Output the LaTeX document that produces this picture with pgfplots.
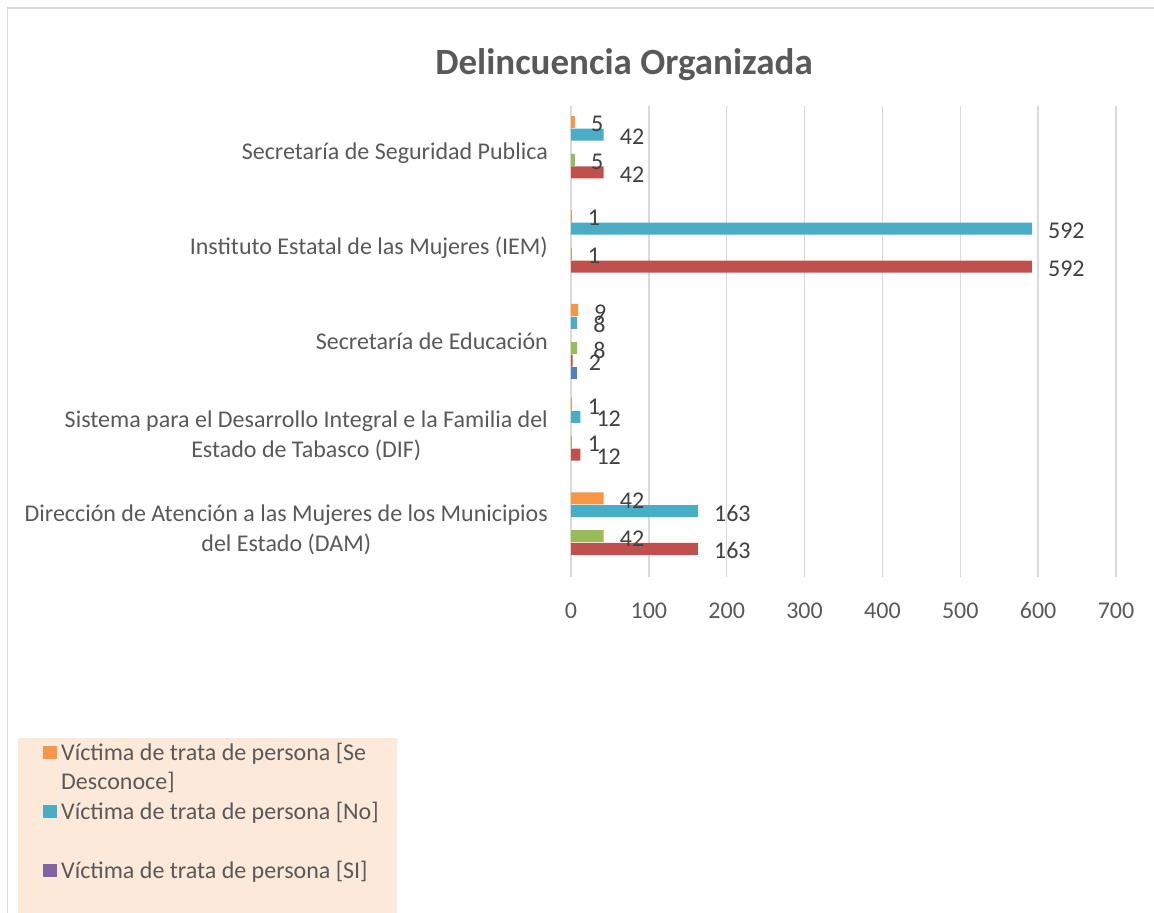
\documentclass[border=0pt]{standalone}
\usepackage{pgfplots}
\pgfplotsset{compat=1.18}
\usepackage{fontspec}
\setmainfont{Carlito}
\definecolor{cblue}{HTML}{4F81BD}
\definecolor{cred}{HTML}{C0504D}
\definecolor{cgreen}{HTML}{9BBB59}
\definecolor{cpurple}{HTML}{8064A2}
\definecolor{cteal}{HTML}{4BACC6}
\definecolor{corange}{HTML}{F79646}
\definecolor{textgray}{HTML}{595959}
\definecolor{labelgray}{HTML}{404040}
\definecolor{gridgray}{HTML}{D9D9D9}
\definecolor{legendfill}{HTML}{FDE9D9}
\pgfplotsset{sqlegend/.style={legend image code/.code={\fill[##1] (0pt,-5pt) rectangle (14pt,8pt); \path (18pt,0pt);}}}
\newcommand{\chartfont}{\fontsize{24}{29.3}\selectfont}
\begin{document}
\begin{tikzpicture}[x=1pt,y=1pt]
\path[use as bounding box] (0,0) rectangle (1154,913);
\clip (0,0) rectangle (1154,913);
\draw[gridgray, line width=1.5pt] (7.5,-10) rectangle (1170,905);
\fill[legendfill] (18,-10) rectangle (397,175);
\begin{axis}[
  at={(571pt,336pt)}, anchor=south west, scale only axis,
  width=545pt, height=470.5pt,
  xmin=0, xmax=700, ymin=-0.5, ymax=4.5,
  xbar, bar width=12pt,
  axis line style={draw=none},
  major tick length=0pt,
  xtick={0,100,...,700},
  xmajorgrids, grid style={draw=gridgray, line width=1.5pt},
  ytick={0,1,2,3,4},
  yticklabels={{Dirección de Atención a las Mujeres de los Municipios\\del Estado (DAM)},
               {Sistema para el Desarrollo Integral e la Familia del\\Estado de Tabasco (DIF)},
               {Secretaría de Educación},
               {Instituto Estatal de las Mujeres (IEM)},
               {Secretaría de Seguridad Publica}},
  yticklabel style={align=center, inner sep=0pt, xshift=-23pt, font=\chartfont, text=textgray},
  xticklabel style={inner sep=0pt, yshift=-25.5pt, font=\chartfont, text=textgray},
  /pgf/number format/assume math mode=true,
  every node near coord/.append style={anchor=west, inner sep=0pt, xshift=16pt, yshift=-2pt, font=\chartfont, text=labelgray},
  title={Delincuencia Organizada},
  title style={at={(axis description cs:0.09725,1)}, anchor=base, yshift=25.5pt, inner sep=0pt, font=\bfseries\fontsize{37}{44}\selectfont, text=textgray},
  legend style={at={(axis description cs:-0.96881,-0.35069)}, anchor=north west, draw=none, fill=none, inner sep=0pt, row sep=5.5pt, font=\chartfont, text=textgray, nodes={inner sep=0pt, text height=18pt, text depth=6pt}},
  legend cell align=left,
]
\addplot[fill=cblue, draw=none, bar shift=-31.5pt, forget plot] coordinates {(8,2)};
\addplot[fill=cred, draw=none, bar shift=-18.9pt, forget plot, nodes near coords] coordinates {(163,0) (12,1) (2,2) (592,3) (42,4)};
\addplot[fill=cgreen, draw=none, bar shift=-6.3pt, forget plot, nodes near coords] coordinates {(42,0) (1,1) (8,2) (1,3) (5,4)};
\addplot[fill=cteal, draw=none, bar shift=18.9pt, forget plot, nodes near coords] coordinates {(163,0) (12,1) (8,2) (592,3) (42,4)};
\addplot[fill=corange, draw=none, bar shift=31.5pt, forget plot, nodes near coords] coordinates {(42,0) (1,1) (9,2) (1,3) (5,4)};
\addlegendimage{sqlegend, fill=corange, draw=none}
\addlegendentry{Víctima de trata de persona [Se}
\addlegendimage{empty legend}
\addlegendentry{Desconoce]}
\addlegendimage{sqlegend, fill=cteal, draw=none}
\addlegendentry{Víctima de trata de persona [No]}
\addlegendimage{empty legend}
\addlegendentry{\mbox{}}
\addlegendimage{sqlegend, fill=cpurple, draw=none}
\addlegendentry{Víctima de trata de persona [SI]}
\end{axis}
\end{tikzpicture}
\end{document}
